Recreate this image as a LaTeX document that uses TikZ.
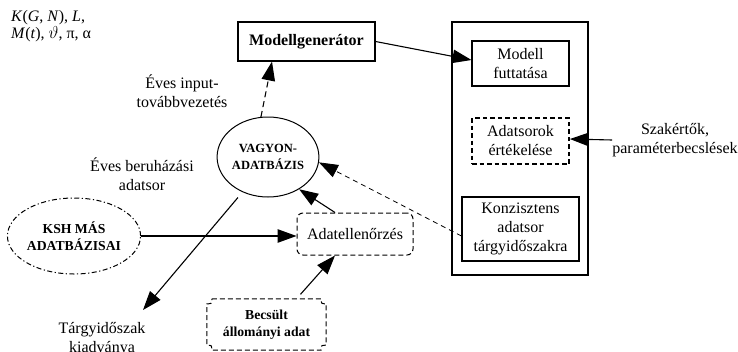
\documentclass[tikz,border=0pt]{standalone}
\usepackage{fontspec}
\setmainfont{Liberation Serif}
\usetikzlibrary{arrows.meta,shapes.geometric}
\begin{document}
\begin{tikzpicture}[x=1pt,y=-1pt,
  every node/.style={font=\fontsize{16}{19}\selectfont, align=center, inner sep=0pt},
  sz/.style 2 args={minimum width=#1pt, minimum height=#2pt},
  box/.style={draw, line width=1.1pt},
  longdash/.style={dash pattern=on 5pt off 3pt},
  dbox/.style={draw, longdash, line width=1pt, rounded corners=6pt},
  thickdash/.style={draw, line width=1.6pt, dash pattern=on 4.5pt off 3pt},
  ell/.style={ellipse, draw, line width=1pt},
  arr/.style={-{Triangle[length=19pt,width=13.5pt]}, line width=1.1pt},
  darr/.style={arr, dash pattern=on 6pt off 4pt},
  bfsmall/.style={font=\fontsize{12.5}{17}\selectfont\bfseries},
  bfmid/.style={font=\fontsize{13.7}{17}\selectfont\bfseries},
]
\useasboundingbox (0,0) rectangle (738,351);

% top-left parameters
\node[anchor=base west, align=left, font=\fontsize{16}{15}\selectfont] (params) at (11,38)
  {\textit{K}(\textit{G}, \textit{N}), \textit{L},\\ \textit{M}(\textit{t}), $\vartheta$, π, α};

% main nodes
\node[box, sz={137}{39}, font=\fontsize{16}{19}\selectfont\bfseries] (mg) at (306.5,41.5) {Modellgenerátor};
\node[draw, line width=1.3pt, sz={136}{253}] (outer) at (520,148.5) {};
\node[box, sz={97}{45}] (mf) at (520.5,63.5) {Modell\\futtatása};
\node[thickdash, sz={97}{46}] (ae) at (520.5,141) {Adatsorok\\értékelése};
\node[box, sz={117}{64}] (kz) at (520.5,229) {Konzisztens\\adatsor\\tárgyidőszakra};
\node (szak) at (675,140) {Szakértők,\\paraméterbecslések};

\node[ell, sz={98}{80}, bfsmall] (vagyon) at (268,157) {VAGYON-\\ADATBÁZIS};
\node[ell, dash pattern=on 5pt off 2.5pt on 1.2pt off 2.5pt, sz={118}{76}, bfmid] (ksh) at (74,236) {KSH MÁS\\ADATBÁZISAI};
\node[dbox, sz={116}{42}] (adat) at (355,234) {Adatellenőrzés};
\node[sz={119}{51}, bfmid] (becs) at (266.5,324.5) {Becsült\\állományi adat};
\draw[longdash, line width=1pt]
  ([xshift=5pt]becs.north west) -- ([xshift=-5pt]becs.north east)
  .. controls ([xshift=-5pt,yshift=-5pt]becs.north east) .. ([yshift=-5pt]becs.north east)
  -- ([yshift=5pt]becs.south east)
  .. controls ([xshift=-5pt,yshift=5pt]becs.south east) .. ([xshift=-5pt]becs.south east)
  -- ([xshift=5pt]becs.south west)
  .. controls ([xshift=5pt,yshift=5pt]becs.south west) .. ([yshift=5pt]becs.south west)
  -- ([yshift=-5pt]becs.north west)
  .. controls ([xshift=5pt,yshift=-5pt]becs.north west) .. ([xshift=5pt]becs.north west);

\node (targy) at (102,339) {Tárgyidőszak\\kiadványa};
\coordinate (tk) at (143,310);
\node (evin) at (182,91) {Éves input-\\továbbvezetés};
\node (evber) at (142,174) {Éves beruházási\\adatsor};

% connectors
\draw[arr] (mg.east) -- ([yshift=3.5pt]mf.west);
\draw[darr] (vagyon.100) -- ([xshift=-34.5pt]mg.south);
\draw[arr] (ksh.east) -- ([yshift=-2pt]adat.west);
\draw[arr] ([xshift=-20pt]adat.north) -- (vagyon.-46);
\draw[arr, shorten <=6pt] ([xshift=30pt]becs.north) -- ([xshift=-20pt]adat.south);
\draw[arr, shorten <=7pt] (vagyon.-126) -- (tk);
\draw[arr, line width=0.8pt, dash pattern=on 5pt off 4pt] ([yshift=-7pt]kz.west) -- (vagyon.-6);
\draw[arr] (szak.west) -- ([yshift=2pt]ae.east);
\end{tikzpicture}
\end{document}
